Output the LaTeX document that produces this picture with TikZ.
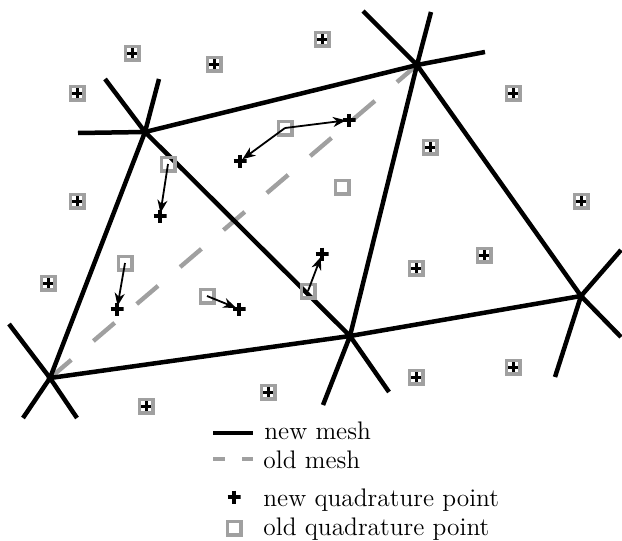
\documentclass[tikz,border=0pt]{standalone}
\usepackage{tikz}
\usetikzlibrary{arrows.meta}
\definecolor{oldgray}{RGB}{160,160,160}
\tikzset{
  mesh_vertex/.style = {circle, fill=black, inner sep=0pt,
    minimum size=3.5pt},% sommet du maillage
  new_edge/.style = {line width=2.25pt, black},% nouveau maillage
  old_edge/.style = {line width=2.2pt, oldgray,
    dash pattern=on 14pt off 14.5pt},% ancien maillage
  old_point/.style = {rectangle, draw=oldgray, line width=1.75pt,
    inner sep=0pt, minimum size=6.75pt},% ancien point de quadrature
  new_point/.style = {rectangle, inner sep=0pt, minimum size=6.5pt,
    path picture={\draw[line width=1.75pt, black]
      (path picture bounding box.north) -- (path picture bounding box.south)
      (path picture bounding box.west) -- (path picture bounding box.east);}},% nouveau point
  kept_point/.style = {old_point, path picture={\draw[line width=1.5pt, black]
      ([yshift=2.75pt]path picture bounding box.center) -- ([yshift=-2.75pt]path picture bounding box.center)
      ([xshift=-2.75pt]path picture bounding box.center) -- ([xshift=2.75pt]path picture bounding box.center);}},% point conserve
  move_arrow/.style = {line width=0.9pt, shorten >=1.5pt,
    -{Stealth[length=6.5pt, width=5pt, inset=2pt]}},
  legend_text/.style = {anchor=base west, inner sep=0pt,
    font=\fontsize{12.7}{15}\selectfont}
}

\begin{document}
\begin{tikzpicture}[x=0.5pt, y=-0.5pt]
  \useasboundingbox (0,0) rectangle (622,541);

  % sommets
  \node [mesh_vertex] (A) at (145,132) {};
  \node [mesh_vertex] (B) at (417,65) {};
  \node [mesh_vertex] (C) at (50,378) {};
  \node [mesh_vertex] (D) at (350,336) {};
  \node [mesh_vertex] (E) at (581,296) {};

  % bouts libres
  \coordinate (A1) at (78,133);  \coordinate (A2) at (105,79);  \coordinate (A3) at (159,79);
  \coordinate (B1) at (363,11);  \coordinate (B2) at (431,12);  \coordinate (B3) at (485,52);
  \coordinate (C1) at (9,324);   \coordinate (C2) at (23,418);  \coordinate (C3) at (77,418);
  \coordinate (D1) at (323,405); \coordinate (D2) at (389,392);
  \coordinate (E1) at (621,250); \coordinate (E2) at (621,337); \coordinate (E3) at (555,377);

  % ancien maillage
  \draw [old_edge] (C.center) -- (B.center);

  % nouveau maillage
  \draw [new_edge] (A.center) -- (B.center) (A.center) -- (C.center)
    (A.center) -- (D.center) (B.center) -- (D.center) (B.center) -- (E.center)
    (C.center) -- (D.center) (D.center) -- (E.center);
  \draw [new_edge] (A.center) -- (A1) (A.center) -- (A2) (A.center) -- (A3)
    (B.center) -- (B1) (B.center) -- (B2) (B.center) -- (B3)
    (C.center) -- (C1) (C.center) -- (C2) (C.center) -- (C3)
    (D.center) -- (D1) (D.center) -- (D2)
    (E.center) -- (E1) (E.center) -- (E2) (E.center) -- (E3);

  % points conserves
  \foreach \x/\y [count=\i] in {132/53, 214/64, 322/39, 77/93, 513/93,
      430/147, 77/201, 581/201, 484/255, 416/268, 48/283, 268/392,
      146/406, 416/377, 513/367}
    \node [kept_point] (k\i) at (\x,\y) {};

  % points deplaces
  \node [old_point] (o1) at (285,128) {};
  \node [old_point] (o2) at (168,164) {};
  \node [old_point] (o3) at (125,263) {};
  \node [old_point] (o4) at (207,296) {};
  \node [old_point] (o5) at (308,291) {};
  \node [old_point] (o6) at (342,187) {};
  \node [new_point] (n1) at (349,120) {};
  \node [new_point] (n2) at (240,161) {};
  \node [new_point] (n3) at (160,216) {};
  \node [new_point] (n4) at (117,309) {};
  \node [new_point] (n5) at (239,309) {};
  \node [new_point] (n6) at (322,254) {};

  \draw [move_arrow] (o1.center) -- (n1.center);
  \draw [move_arrow] (o1.center) -- (n2.center);
  \draw [move_arrow] (o2.center) -- (n3.center);
  \draw [move_arrow] (o3.center) -- (n4.center);
  \draw [move_arrow] (o4.center) -- (n5.center);
  \draw [move_arrow] (o5.center) -- (n6.center);

  % legende
  \coordinate (lnew_a) at (213,433); \coordinate (lnew_b) at (253,433);
  \coordinate (lold_a) at (213,459); \coordinate (lold_b) at (253,459);
  \draw [new_edge] (lnew_a) -- (lnew_b);
  \draw [old_edge, dash pattern=on 6pt off 8.5pt] (lold_a) -- (lold_b);
  \node [legend_text] (lnew) at (264,439) {new mesh};
  \node [legend_text] (lold) at (263,468) {old mesh};
  \node [new_point] (lqnew) at (234,497) {};
  \node [old_point] (lqold) at (234,528) {};
  \node [legend_text] (lqnew_t) at (263,506) {new quadrature point};
  \node [legend_text] (lqold_t) at (263,535) {old quadrature point};
\end{tikzpicture}
\end{document}
